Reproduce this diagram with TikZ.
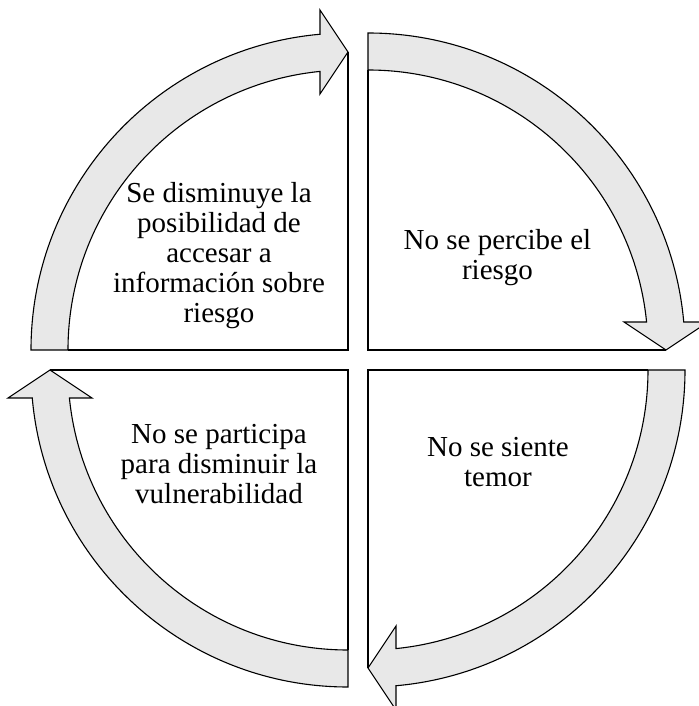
\documentclass[tikz,border=0pt]{standalone}
\usepackage{fontspec}
\setmainfont{Liberation Serif}
\usepackage{tikz}

\begin{document}
\begin{tikzpicture}[x=1pt, y=1pt,
    arrowband/.style={draw, line width=1.1pt, fill=black!9},
    rim/.style={draw, line width=1.1pt},
    txt/.style={align=center, font=\fontsize{29}{30}\selectfont}]
    \useasboundingbox (-358,-346) rectangle (340,360);

    % Top right quarter
    \begin{scope}[shift={(10,10)}]
        \draw[arrowband] (0,280) -- (0,317) arc[start angle=90, end angle=5.07, radius=317]
            -- (340,28) -- (298,0) -- (256,28) -- (5.74:280) arc[start angle=5.74, end angle=90, radius=280] -- cycle;
        \draw[rim] (0,280) -- (0,0) -- (298,0);
    \end{scope}

    % Bottom right quarter
    \begin{scope}[rotate=-90, shift={(10,10)}]
        \draw[arrowband] (0,280) -- (0,317) arc[start angle=90, end angle=5.07, radius=317]
            -- (340,28) -- (298,0) -- (256,28) -- (5.74:280) arc[start angle=5.74, end angle=90, radius=280] -- cycle;
        \draw[rim] (0,280) -- (0,0) -- (298,0);
    \end{scope}

    % Bottom left quarter
    \begin{scope}[rotate=-180, shift={(10,10)}]
        \draw[arrowband] (0,280) -- (0,317) arc[start angle=90, end angle=5.07, radius=317]
            -- (340,28) -- (298,0) -- (256,28) -- (5.74:280) arc[start angle=5.74, end angle=90, radius=280] -- cycle;
        \draw[rim] (0,280) -- (0,0) -- (298,0);
    \end{scope}

    % Top left quarter
    \begin{scope}[rotate=-270, shift={(10,10)}]
        \draw[arrowband] (0,280) -- (0,317) arc[start angle=90, end angle=5.07, radius=317]
            -- (340,28) -- (298,0) -- (256,28) -- (5.74:280) arc[start angle=5.74, end angle=90, radius=280] -- cycle;
        \draw[rim] (0,280) -- (0,0) -- (298,0);
    \end{scope}

    % Texts
    \node[txt] (acceso) at (-139,104) {Se disminuye la\\posibilidad de\\accesar a\\información sobre\\riesgo};
    \node[txt] (percibe) at (139.5,102) {No se percibe el\\riesgo};
    \node[txt] (temor) at (140,-102) {No se siente\\temor};
    \node[txt] (participa) at (-139,-104) {No se participa\\para disminuir la\\vulnerabilidad};
\end{tikzpicture}
\end{document}
